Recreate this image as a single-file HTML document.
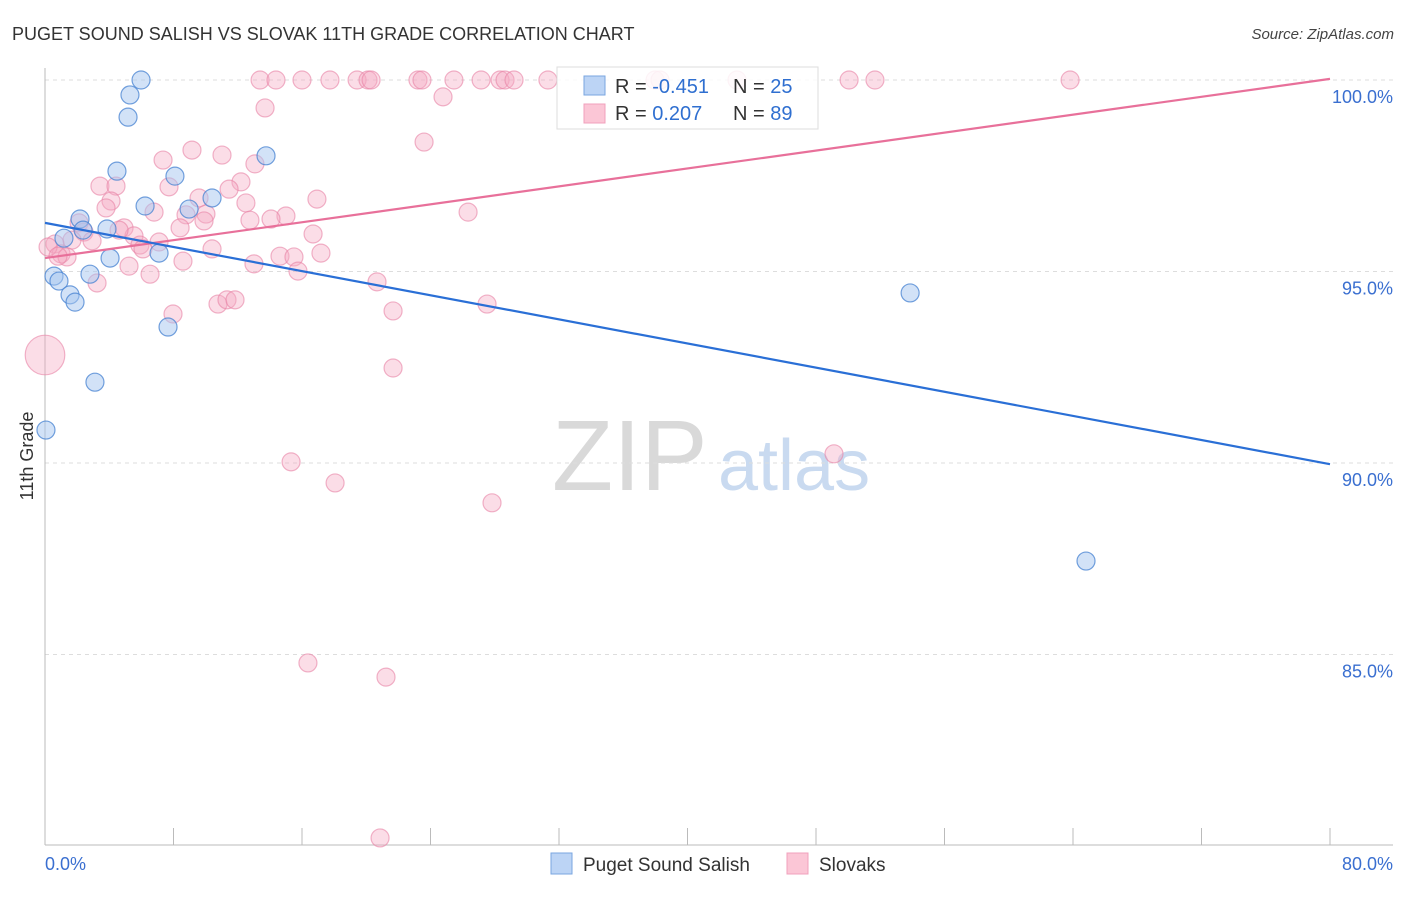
<!DOCTYPE html>
<html><head><meta charset="utf-8"><style>
body{margin:0;background:#fff;font-family:"Liberation Sans",sans-serif;}
svg text{font-family:"Liberation Sans",sans-serif;}
</style></head><body>
<svg id="chart" width="1406" height="892" viewBox="0 0 1406 892" xmlns="http://www.w3.org/2000/svg">
<text x="12" y="40" font-size="18" fill="#333">PUGET SOUND SALISH VS SLOVAK 11TH GRADE CORRELATION CHART</text>
<text x="1394" y="39" font-size="15" fill="#444" text-anchor="end" font-style="italic">Source: ZipAtlas.com</text>
<g>
<text x="552" y="490" font-size="100" fill="#d9d9d9" font-family="Liberation Serif, serif">ZIP</text>
<text x="718" y="490" font-size="72" fill="#c9daf0">atlas</text>
</g>
<g id="grid"></g>
<g id="axes"></g>
<g id="pink"></g>
<g id="blue"></g>
<g id="lines"></g>
<g>
<rect x="557" y="67" width="261" height="62" fill="#fff" fill-opacity="0.85" stroke="#ddd"/>
<rect x="584" y="76" width="21" height="19" fill="#bcd4f5" stroke="#7aa6e0"/>
<rect x="584" y="104" width="21" height="19" fill="#fbc6d6" stroke="#f0a0bc"/>
<text x="615" y="93" font-size="20" fill="#333">R = <tspan fill="#2f6fd0">-0.451</tspan></text>
<text x="733" y="93" font-size="20" fill="#333">N = <tspan fill="#2f6fd0">25</tspan></text>
<text x="615" y="120" font-size="20" fill="#333">R = <tspan fill="#2f6fd0"> 0.207</tspan></text>
<text x="733" y="120" font-size="20" fill="#333">N = <tspan fill="#2f6fd0">89</tspan></text>
</g>
<g>
<rect x="551" y="853" width="21" height="21" fill="#bcd4f5" stroke="#7aa6e0"/>
<text x="583" y="871" font-size="19" fill="#333">Puget Sound Salish</text>
<rect x="787" y="853" width="21" height="21" fill="#fbc6d6" stroke="#f0a0bc"/>
<text x="819" y="871" font-size="19" fill="#333">Slovaks</text>
</g>
<text transform="translate(33,456) rotate(-90)" font-size="18" fill="#333" text-anchor="middle">11th Grade</text>
<text x="45" y="870" font-size="18" fill="#3a6fd0">0.0%</text>
<text x="1393" y="870" font-size="18" fill="#3a6fd0" text-anchor="end">80.0%</text>
</svg>
<script>
const yTicks=[100,95,90,85];
const yTickLabels=["100.0%","95.0%","90.0%","85.0%"];
const xTicks=[0,8,16,24,32,40,48,56,64,72,80];
const blueX=[5.98,5.29,5.17,13.76,4.48,8.09,10.40,6.23,8.97,2.18,3.86,2.37,1.18,7.10,4.05,2.80,0.56,0.87,1.56,1.87,7.66,3.11,0.06,53.86,64.81];
const blueY=[100,99.61,99.03,98.02,97.62,97.49,96.92,96.71,96.63,96.37,96.11,96.08,95.87,95.48,95.35,94.93,94.88,94.75,94.39,94.20,93.55,92.11,90.86,94.44,87.44];
const pinkX=[13.39,14.38,16.00,17.74,19.43,20.11,20.30,23.22,23.47,25.46,27.15,28.33,28.64,29.20,31.31,37.98,38.29,43.08,50.06,51.67,63.82,
13.70,24.78,23.60,9.15,7.35,11.02,13.07,3.42,4.42,7.72,12.20,11.46,4.11,9.59,16.93,3.80,6.79,12.51,8.78,10.02,26.34,15.00,12.76,14.07,9.90,2.12,4.92,8.41,2.43,16.69,5.54,1.68,2.93,7.10,0.62,5.91,10.40,6.10,1.00,1.37,17.18,14.63,15.50,8.59,5.23,15.75,6.54,3.24,20.67,27.52,10.77,21.67,7.97,11.33,11.83,21.67,0,15.32,49.12,18.06,27.83,16.37,21.23,20.86,0.19,0.81,4.61,13.01];
const pinkY=[100,100,100,100,100,100,100,100,100,100,100,100,100,100,100,100,100,100,100,100,100,
99.27,99.56,98.38,98.17,97.91,98.04,97.81,97.23,97.23,97.21,97.34,97.15,96.84,96.92,96.89,96.66,96.55,96.79,96.48,96.50,96.55,96.45,96.34,96.37,96.32,96.27,96.14,96.14,96.03,95.98,95.93,95.82,95.80,95.77,95.72,95.69,95.59,95.59,95.46,95.38,95.48,95.40,95.38,95.27,95.14,95.01,94.93,94.70,94.73,94.15,94.15,93.97,93.89,94.26,94.26,92.48,92.82,90.03,90.24,89.48,88.96,84.78,84.41,80.21,95.64,95.40,96.08,95.20];
const pinkSize=pinkX.map((v,i)=>i===77?2.2:1);
const blueTrend=[96.27,89.97];
const pinkTrend=[95.35,100.03];
const NS="http://www.w3.org/2000/svg";
const sx=v=>45+v*(1285/80);
const sy=v=>80+(100-v)*38.3;
function mk(tag,parent,attrs){const e=document.createElementNS(NS,tag);for(const k in attrs)e.setAttribute(k,attrs[k]);parent.appendChild(e);return e;}
const grid=document.getElementById('grid'),axes=document.getElementById('axes');
yTicks.forEach((t,i)=>{
 const l=mk('line',grid,{x1:45,x2:1393,y1:sy(t),y2:sy(t),stroke:'#ddd','stroke-dasharray':'4,4'});
 
 
 const tx=mk('text',grid,{x:1393,y:sy(t)+23,'font-size':18,fill:'#3a6fd0','text-anchor':'end'});
 tx.textContent=yTickLabels[i];
 
 
});
let a=mk('line',axes,{x1:45,x2:45,y1:68,y2:845,stroke:'#bbb'});


a=mk('line',axes,{x1:45,x2:1393,y1:845,y2:845,stroke:'#bbb'});


xTicks.forEach(t=>{
 const l=mk('line',axes,{x1:sx(t),x2:sx(t),y1:828,y2:845,stroke:'#bbb'});
 
 
});
const pg=document.getElementById('pink');
pinkX.forEach((x,i)=>{
 const c=mk('circle',pg,{cx:sx(x),cy:sy(pinkY[i]),r:9*pinkSize[i],fill:'rgba(246,170,196,0.4)',stroke:'rgba(232,130,165,0.6)','stroke-width':1.2});
 
 
});
const bg=document.getElementById('blue');
blueX.forEach((x,i)=>{
 const c=mk('circle',bg,{cx:sx(x),cy:sy(blueY[i]),r:9,fill:'rgba(165,198,240,0.5)',stroke:'rgba(70,130,210,0.75)','stroke-width':1.2});
 
 
});
const lg=document.getElementById('lines');
let tl=mk('line',lg,{x1:sx(0),y1:sy(pinkTrend[0]),x2:sx(80),y2:sy(pinkTrend[1]),stroke:'#e8709a','stroke-width':2.2});


tl=mk('line',lg,{x1:sx(0),y1:sy(blueTrend[0]),x2:sx(80),y2:sy(blueTrend[1]),stroke:'#2a6fd6','stroke-width':2.2});


</script>
</body></html>
